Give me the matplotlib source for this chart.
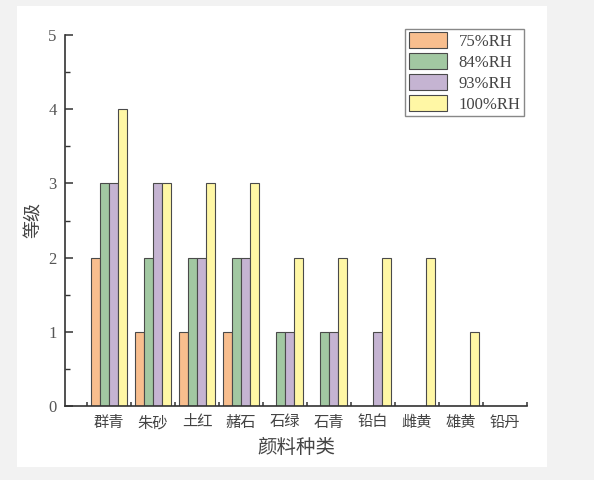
import matplotlib
matplotlib.use('Agg')
import matplotlib.pyplot as plt
import numpy as np
from matplotlib.patches import Rectangle

plt.rcParams['font.family'] = ['Liberation Serif', 'Noto Sans CJK SC', 'DejaVu Sans']

# data
pigments = ['群青', '朱砂', '土红', '赭石', '石绿', '石青', '铅白', '雌黄', '雄黄', '铅丹']
rh_75 = [2, 1, 1, 1, 0, 0, 0, 0, 0, 0]
rh_84 = [3, 2, 2, 2, 1, 1, 0, 0, 0, 0]
rh_93 = [3, 3, 2, 2, 1, 1, 1, 0, 0, 0]
rh_100 = [4, 3, 3, 3, 2, 2, 2, 2, 1, 0]
series_names = ['75%RH', '84%RH', '93%RH', '100%RH']
colors = ['#F8BE8E', '#A2C8A2', '#C5B4D2', '#FFF7A5']

fig = plt.figure(figsize=(5.94, 4.80), dpi=100)
fig.patch.set_facecolor('#f2f2f2')
# white panel behind the chart
fig.patches.append(Rectangle((17/594, 13/480), 530/594, 461/480, transform=fig.transFigure,
                             facecolor='white', edgecolor='none', zorder=-10))

ax = fig.add_axes([65/594, 1-406/480, (527-65)/594, (406-35)/480])
ax.set_zorder(5)
ax.set_facecolor('white')

x = np.arange(1, len(pigments)+1)
w = 0.2
all_series = [rh_75, rh_84, rh_93, rh_100]
for i in range(4):
    ax.bar(x + (i-1.5)*w, all_series[i], width=w, color=colors[i], edgecolor='#4a4a4a',
           linewidth=0.8, label=series_names[i], zorder=2)

ax.set_xlim(0, 10.5)
ax.set_ylim(0, 5)

for s in ['top', 'right']:
    ax.spines[s].set_visible(False)
for s in ['left', 'bottom']:
    ax.spines[s].set_color('#333333')
    ax.spines[s].set_linewidth(1.2)

ax.set_yticks([0, 1, 2, 3, 4, 5])
ax.set_yticks(np.arange(0.5, 5, 1), minor=True)
ax.tick_params(axis='y', which='major', direction='in', length=6, width=1.1, color='#333333',
               labelsize=12, labelcolor='#555555', pad=6)
ax.tick_params(axis='y', which='minor', direction='in', length=3.5, width=1.0, color='#333333')

# group boundaries as major ticks, names centred as minor tick labels
ax.set_xticks(np.arange(0.5, 11, 1))
ax.set_xticklabels([])
ax.set_xticks(x, minor=True)
ax.set_xticklabels(pigments, minor=True)
ax.tick_params(axis='x', which='major', direction='in', length=3, width=1.1, color='#333333')
ax.tick_params(axis='x', which='minor', length=0, labelsize=11, labelcolor='#444444', pad=7)

ax.set_xlabel('颜料种类', fontsize=14, color='#444444', labelpad=6)
ax.set_ylabel('等级', fontsize=13, color='#444444', labelpad=4)

leg = ax.legend(loc='upper right', bbox_to_anchor=(524/594, 1-29/480), bbox_transform=fig.transFigure,
                fontsize=12, fancybox=False, framealpha=1, edgecolor='#888888',
                handlelength=2.3, handleheight=1.1, labelspacing=0.2, handletextpad=0.7,
                borderpad=0.2, borderaxespad=0)
leg.get_frame().set_linewidth(1.0)
for t in leg.get_texts():
    t.set_color('#444444')

plt.savefig('out.png', dpi=100, facecolor=fig.get_facecolor())
